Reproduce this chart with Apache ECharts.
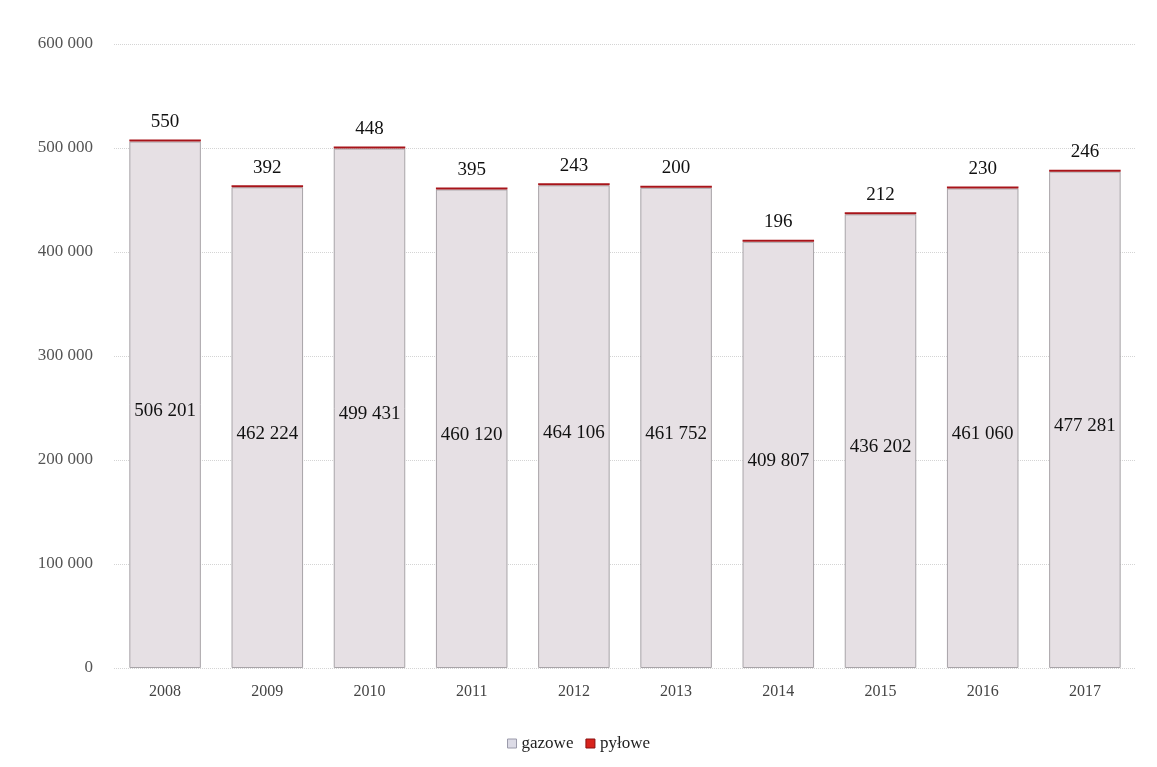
<!DOCTYPE html>
<html>
<head>
<meta charset="utf-8">
<script src="https://cdn.jsdelivr.net/npm/echarts@6/dist/echarts.min.js"></script>
<style>
  html, body { margin: 0; padding: 0; background: #fff; }
  #main { width: 1157px; height: 767px; }
</style>
</head>
<body>
<div id="main"></div>
<script>
// lata
var years = ["2008", "2009", "2010", "2011", "2012", "2013", "2014", "2015", "2016", "2017"];
// gazowe
var gazowe = [506201, 462224, 499431, 460120, 464106, 461752, 409807, 436202, 461060, 477281];
// pyłowe
var pylowe = [550, 392, 448, 395, 243, 200, 196, 212, 230, 246];

function fmt(v) {
  return String(v).replace(/\B(?=(\d{3})+(?!\d))/g, " ");
}

var chart = echarts.init(document.getElementById("main"));
chart.setOption({
  animation: false,
  textStyle: { fontFamily: "Liberation Serif" },
  grid: { left: 114, right: 21, top: 44, bottom: 99 },
  legend: {
    bottom: 10,
    left: "center",
    icon: "rect",
    itemWidth: 9,
    itemHeight: 9,
    itemGap: 12,
    textStyle: { fontFamily: "Liberation Serif", fontSize: 17, color: "#222" },
    data: [
      { name: "gazowe", itemStyle: { color: "#dcdbe6", borderColor: "#9a9aaa", borderWidth: 1 } },
      { name: "pyłowe", itemStyle: { color: "#d8231c", borderColor: "#8a1010", borderWidth: 1 } }
    ]
  },
  xAxis: {
    type: "category",
    data: years,
    axisLine: { show: false },
    axisTick: { show: false },
    axisLabel: { color: "#444", fontSize: 16, margin: 16, fontFamily: "Liberation Serif" }
  },
  yAxis: {
    type: "value",
    min: 0,
    max: 600000,
    interval: 100000,
    axisLabel: {
      color: "#555",
      fontSize: 17,
      margin: 21,
      fontFamily: "Liberation Serif",
      formatter: fmt
    },
    splitLine: { lineStyle: { color: "#d4d4d4", type: "dotted" } }
  },
  series: [
    {
      name: "gazowe",
      type: "bar",
      stack: "a",
      barWidth: "70%",
      data: gazowe,
      itemStyle: { color: "#e6e0e4", borderColor: "#a8a4a8", borderWidth: 1 },
      label: {
        show: true,
        position: "inside",
        offset: [0, 6],
        color: "#111",
        fontSize: 19,
        fontFamily: "Liberation Serif",
        formatter: function (p) { return fmt(p.value); }
      }
    },
    {
      name: "pyłowe",
      type: "bar",
      stack: "a",
      barWidth: "70%",
      barMinHeight: 2,
      data: pylowe,
      itemStyle: { color: "#a8141a" },
      label: {
        show: true,
        position: "top",
        distance: 8,
        color: "#111",
        fontSize: 19,
        fontFamily: "Liberation Serif"
      }
    }
  ]
});
</script>
</body>
</html>
